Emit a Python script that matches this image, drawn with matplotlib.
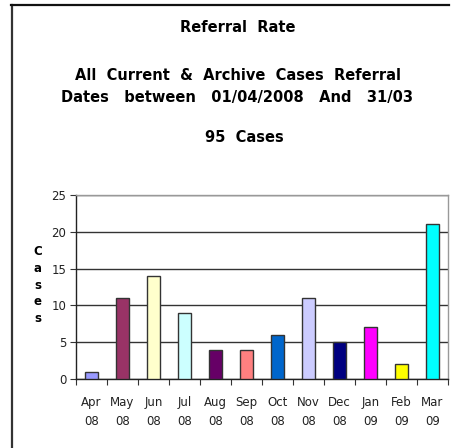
import matplotlib
matplotlib.use("Agg")
import matplotlib.pyplot as plt
from matplotlib.lines import Line2D
from matplotlib.transforms import Bbox, TransformedBbox
import numpy as np

#
# Chart data.
#
months = ['Apr', 'May', 'Jun', 'Jul', 'Aug', 'Sep', 'Oct', 'Nov', 'Dec', 'Jan', 'Feb', 'Mar']
years = ['08', '08', '08', '08', '08', '08', '08', '08', '08', '09', '09', '09']
cases = [1, 11, 14, 9, 4, 4, 6, 11, 5, 7, 2, 21]
bar_colors = ['#9999FF', '#993366', '#FFFFCC', '#CCFFFF', '#660066', '#FF8080',
              '#0066CC', '#CCCCFF', '#000080', '#FF00FF', '#FFFF00', '#00FFFF']
y_ticks = [0, 5, 10, 15, 20, 25]

title_lines = ['Referral  Rate',
               'All  Current  &  Archive  Cases  Referral',
               'Dates   between   01/04/2008   And   31/03/2009',
               '95  Cases']

W, H = 458, 448
fig = plt.figure(figsize=(W / 100, H / 100), dpi=100)
fig.patch.set_facecolor('white')

ax = fig.add_axes([76 / W, 1 - 379 / H, (448 - 76) / W, (379 - 195) / H])
x = np.arange(len(cases))
ax.bar(x, cases, width=0.43, color=bar_colors, edgecolor='#333333', linewidth=1, zorder=3)

ax.set_xlim(-0.5, len(cases) - 0.5)
ax.set_ylim(y_ticks[0], y_ticks[-1])
ax.set_yticks(y_ticks)
ax.yaxis.grid(True, color='#333333', linewidth=1)
ax.set_axisbelow(True)

# category boundaries get the tick marks, centres get the labels
ax.set_xticks(np.arange(-0.5, len(cases), 1.0))
ax.set_xticklabels([])
ax.set_xticks(x, minor=True)
ax.set_xticklabels(['{}\n{}'.format(m, y) for m, y in zip(months, years)], minor=True,
                   linespacing=1.55)
ax.tick_params(axis='x', which='major', length=4, direction='out', color='#333333')
ax.tick_params(axis='x', which='minor', length=0, pad=12.5, labelsize=8.5, labelcolor='#222222')
ax.tick_params(axis='y', length=4, direction='out', pad=3, labelsize=8.5,
               labelcolor='#222222', color='#333333')

for side in ['left', 'bottom']:
    ax.spines[side].set_color('#222222')
    ax.spines[side].set_linewidth(1)
for side in ['top', 'right']:
    ax.spines[side].set_color('#999999')
    ax.spines[side].set_linewidth(1)

# y label as stacked letters
fig.text(38 / W, 1 - 285 / H, '\n'.join('Cases'), ha='center', va='center',
         fontsize=8.5, fontweight='bold', linespacing=1.38)

# titles
fig.text(238 / W, 1 - 27 / H, title_lines[0], ha='center', va='center',
         fontsize=10.5, fontweight='bold')
fig.text(238.5 / W, 1 - 75 / H, title_lines[1], ha='center', va='center',
         fontsize=10.5, fontweight='bold')
# the date line runs past its text box in the original, so cut it off
t = fig.text(61 / W, 1 - 97 / H, title_lines[2], ha='left', va='center',
             fontsize=10.5, fontweight='bold')
t.set_clip_box(TransformedBbox(Bbox([[0, 0], [413 / W, 1]]), fig.transFigure))
t.set_clip_on(True)
fig.text(244 / W, 1 - 138 / H, title_lines[3], ha='center', va='center',
         fontsize=10.5, fontweight='bold')

# frame border (left and top visible)
fig.add_artist(Line2D([11.5 / W, 11.5 / W], [0, 1 - 5 / H], color='#333333', linewidth=1.6))
fig.add_artist(Line2D([11 / W, 449 / W], [1 - 5 / H, 1 - 5 / H], color='#111111', linewidth=1.6))

fig.savefig('out.png', dpi=100)
